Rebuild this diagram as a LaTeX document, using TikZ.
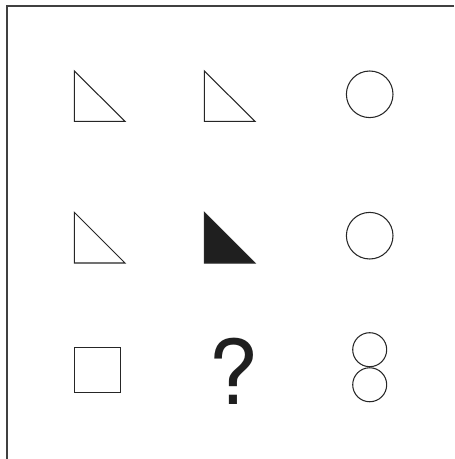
\documentclass[tikz,border=0pt]{standalone}
\usepackage{fontspec}
\setsansfont{TeX Gyre Heros}
\usetikzlibrary{positioning}

\begin{document}
\begin{tikzpicture}[
    x=0.02cm, y=-0.02cm,
    line width=0.6pt,
    % Define styles
    frame/.style={
        draw=black!75,
        line width=0.8pt
    },
    tri/.style={
        draw=black!85,
        fill=white
    },
    solidtri/.style={
        draw=black!85,
        fill=black!88
    },
    ring/.style={
        circle,
        draw=black!85,
        inner sep=0pt,
        minimum size=46.6*0.02cm
    },
    smallring/.style={
        circle,
        draw=black!85,
        inner sep=0pt,
        minimum size=34*0.02cm
    },
    box/.style={
        rectangle,
        draw=black!85,
        inner sep=0pt,
        minimum width=46*0.02cm,
        minimum height=45.7*0.02cm
    },
    quest/.style={
        inner sep=0pt,
        font=\sffamily\fontsize{51}{51}\selectfont,
        text=black!88
    }
]

\useasboundingbox (0,0) rectangle (454,459);

% Frame (top and left edges only)
\draw[frame] (454,6) -- (7,6) -- (7,459);

% Top row: two triangles and a circle
\draw[tri] (74.3,71) -- (74.3,121.3) -- (125,121.3) -- cycle;
\draw[tri] (204.3,71) -- (204.3,121.3) -- (255,121.3) -- cycle;
\node[ring] (c1) at (369.7,94.3) {};

% Middle row: triangle, filled triangle, circle
\draw[tri] (74.3,212.3) -- (74.3,263) -- (125,263) -- cycle;
\draw[solidtri] (204.3,212.3) -- (204.3,263) -- (255,263) -- cycle;
\node[ring] (c2) at (369.7,235.7) {};

% Bottom row: square, question mark, two stacked circles
\node[box] (sq) at (97.3,370) {};
\node[quest, anchor=base] (q) at (233.5,404) {?};
\node[smallring] (s1) at (369.7,349.7) {};
\node[smallring, below=0pt of s1] (s2) {};

\end{tikzpicture}
\end{document}
